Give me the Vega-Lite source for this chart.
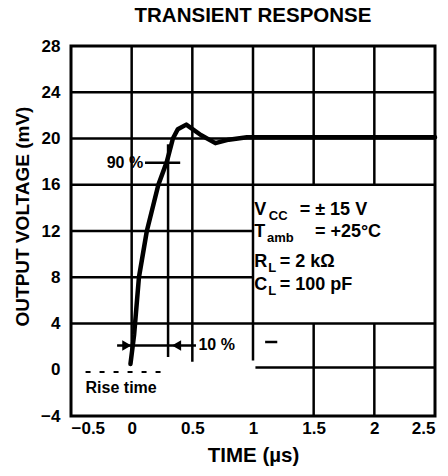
{
  "$schema": "https://vega.github.io/schema/vega-lite/v6.json",
  "width": 364,
  "height": 370,
  "autosize": {"type": "none"},
  "padding": {"left": 71, "top": 46, "right": 13, "bottom": 60},
  "background": "white",
  "config": {
    "view": {"stroke": "black", "strokeWidth": 3},
    "font": "Liberation Sans",
    "axis": {"labelFont": "Liberation Sans", "labelFontWeight": "bold", "labelFontSize": 17, "labelColor": "black", "titleFont": "Liberation Sans", "titleFontWeight": "bold", "titleColor": "black", "domain": false, "ticks": false, "grid": false}
  },
  "title": {"text": "TRANSIENT RESPONSE", "fontSize": 20.5, "fontWeight": "bold", "font": "Liberation Sans", "color": "black", "offset": 11},
  "datasets": {
    "curve": [
      {"t": -0.01, "v": 0.5},
      {"t": 0.02, "v": 3},
      {"t": 0.06, "v": 8},
      {"t": 0.125, "v": 12},
      {"t": 0.22, "v": 16},
      {"t": 0.29, "v": 18},
      {"t": 0.34, "v": 20},
      {"t": 0.38, "v": 20.8},
      {"t": 0.45, "v": 21.2},
      {"t": 0.57, "v": 20.3},
      {"t": 0.69, "v": 19.6},
      {"t": 0.8, "v": 19.9},
      {"t": 0.95, "v": 20.1},
      {"t": 2.5, "v": 20.1}
    ],
    "grid": [
      {"x1": 0, "y1": 28, "x2": 0, "y2": 1.2},
      {"x1": 0.5, "y1": 28, "x2": 0.5, "y2": 0.7},
      {"x1": 1, "y1": 28, "x2": 1, "y2": 0.8},
      {"x1": 1.5, "y1": 28, "x2": 1.5, "y2": 16},
      {"x1": 1.5, "y1": 4, "x2": 1.5, "y2": -4},
      {"x1": 2, "y1": 28, "x2": 2, "y2": 16},
      {"x1": 2, "y1": 4, "x2": 2, "y2": -4},
      {"x1": 0.3, "y1": 19.5, "x2": 0.3, "y2": 1.1},
      {"x1": -0.5, "y1": 24, "x2": 2.5, "y2": 24},
      {"x1": -0.5, "y1": 20, "x2": 2.5, "y2": 20},
      {"x1": -0.5, "y1": 16, "x2": 2.5, "y2": 16},
      {"x1": -0.5, "y1": 12, "x2": 1, "y2": 12},
      {"x1": -0.5, "y1": 8, "x2": 1, "y2": 8},
      {"x1": -0.5, "y1": 4, "x2": 2.5, "y2": 4},
      {"x1": 1.02, "y1": 0.2, "x2": 2.5, "y2": 0.2},
      {"x1": 0.11, "y1": 17.9, "x2": 0.4, "y2": 17.9},
      {"x1": -0.12, "y1": 2.1, "x2": 0.53, "y2": 2.1},
      {"x1": 1.1, "y1": 2.4, "x2": 1.2, "y2": 2.4}
    ],
    "dashed": [
      {"x1": -0.38, "y1": -0.2, "x2": 0.28, "y2": -0.2}
    ],
    "arrows": [
      {"x": -0.04, "y": 2.1, "dir": "right"},
      {"x": 0.37, "y": 2.1, "dir": "left"}
    ],
    "labels": [
      {"x": 0.095, "y": 17.9, "txt": "90 %", "al": "right"},
      {"x": 0.55, "y": 2.1, "txt": "10 %", "al": "left"},
      {"x": -0.38, "y": -1.6, "txt": "Rise time", "al": "left"}
    ],
    "box": [
      {"x": 1.01, "y": 13.8, "txt": "V"},
      {"x": 1.385, "y": 13.8, "txt": "= ± 15 V"},
      {"x": 1.01, "y": 11.9, "txt": "T"},
      {"x": 1.51, "y": 11.9, "txt": "= +25°C"},
      {"x": 1.01, "y": 9.3, "txt": "R"},
      {"x": 1.22, "y": 9.3, "txt": "= 2 kΩ"},
      {"x": 1.01, "y": 7.3, "txt": "C"},
      {"x": 1.22, "y": 7.3, "txt": "= 100 pF"}
    ],
    "subs": [
      {"x": 1.13, "y": 13.8, "txt": "CC"},
      {"x": 1.115, "y": 11.9, "txt": "amb"},
      {"x": 1.125, "y": 9.3, "txt": "L"},
      {"x": 1.125, "y": 7.3, "txt": "L"}
    ]
  },
  "layer": [
    {
      "data": {"name": "grid"},
      "mark": {"type": "rule", "color": "black", "strokeWidth": 2.5},
      "encoding": {
        "x": {"field": "x1", "type": "quantitative", "scale": {"domain": [-0.5, 2.5], "nice": false, "zero": false},
          "axis": {"values": [-0.5, 0, 0.5, 1, 1.5, 2, 2.5], "labelExpr": "replace(toString(datum.value), '-', '−')", "labelPadding": 4, "title": "TIME (µs)", "titleFontSize": 20.5, "titlePadding": 9}},
        "y": {"field": "y1", "type": "quantitative", "scale": {"domain": [-4, 28], "nice": false, "zero": false},
          "axis": {"values": [-4, 0, 4, 8, 12, 16, 20, 24, 28], "labelExpr": "replace(toString(datum.value), '-', '−')", "labelPadding": 11, "title": "OUTPUT VOLTAGE (mV)", "titleFontSize": 19, "titleX": -49, "titleY": 170, "titleBaseline": "middle"}},
        "x2": {"field": "x2"},
        "y2": {"field": "y2"}
      }
    },
    {
      "data": {"name": "dashed"},
      "mark": {"type": "rule", "color": "black", "strokeWidth": 2, "strokeDash": [5, 9]},
      "encoding": {
        "x": {"field": "x1", "type": "quantitative"},
        "y": {"field": "y1", "type": "quantitative"},
        "x2": {"field": "x2"},
        "y2": {"field": "y2"}
      }
    },
    {
      "data": {"name": "arrows"},
      "transform": [{"filter": "datum.dir == 'right'"}],
      "mark": {"type": "point", "shape": "triangle-right", "filled": true, "color": "black", "size": 110, "opacity": 1},
      "encoding": {
        "x": {"field": "x", "type": "quantitative"},
        "y": {"field": "y", "type": "quantitative"}
      }
    },
    {
      "data": {"name": "arrows"},
      "transform": [{"filter": "datum.dir == 'left'"}],
      "mark": {"type": "point", "shape": "triangle-left", "filled": true, "color": "black", "size": 110, "opacity": 1},
      "encoding": {
        "x": {"field": "x", "type": "quantitative"},
        "y": {"field": "y", "type": "quantitative"}
      }
    },
    {
      "data": {"name": "curve"},
      "mark": {"type": "line", "color": "black", "strokeWidth": 4.5, "strokeJoin": "round", "strokeCap": "round"},
      "encoding": {
        "x": {"field": "t", "type": "quantitative"},
        "y": {"field": "v", "type": "quantitative"}
      }
    },
    {
      "data": {"name": "labels"},
      "transform": [{"filter": "datum.al == 'right'"}],
      "mark": {"type": "text", "align": "right", "baseline": "middle", "fontSize": 16, "fontWeight": "bold", "color": "black"},
      "encoding": {
        "x": {"field": "x", "type": "quantitative"},
        "y": {"field": "y", "type": "quantitative"},
        "text": {"field": "txt"}
      }
    },
    {
      "data": {"name": "labels"},
      "transform": [{"filter": "datum.al == 'left'"}],
      "mark": {"type": "text", "align": "left", "baseline": "middle", "fontSize": 16, "fontWeight": "bold", "color": "black"},
      "encoding": {
        "x": {"field": "x", "type": "quantitative"},
        "y": {"field": "y", "type": "quantitative"},
        "text": {"field": "txt"}
      }
    },
    {
      "data": {"name": "box"},
      "mark": {"type": "text", "align": "left", "baseline": "middle", "fontSize": 18, "fontWeight": "bold", "color": "black"},
      "encoding": {
        "x": {"field": "x", "type": "quantitative"},
        "y": {"field": "y", "type": "quantitative"},
        "text": {"field": "txt"}
      }
    },
    {
      "data": {"name": "subs"},
      "mark": {"type": "text", "align": "left", "baseline": "middle", "fontSize": 13, "fontWeight": "bold", "color": "black", "dy": 6},
      "encoding": {
        "x": {"field": "x", "type": "quantitative"},
        "y": {"field": "y", "type": "quantitative"},
        "text": {"field": "txt"}
      }
    }
  ]
}
